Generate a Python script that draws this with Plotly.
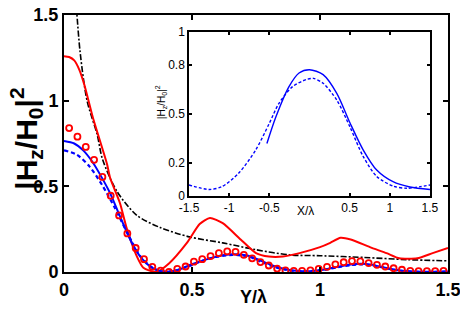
import plotly.graph_objects as go

# ---- main panel data (Y/lambda) ----
red_x = [0, 0.02, 0.04, 0.06, 0.08, 0.113, 0.168, 0.18, 0.219, 0.246, 0.285, 0.31, 0.36,
         0.41, 0.48, 0.53, 0.57, 0.62, 0.69, 0.75, 0.80, 0.855, 0.92, 1.0, 1.04, 1.08,
         1.12, 1.195, 1.26, 1.31, 1.38, 1.44, 1.5]
red_y = [1.26, 1.255, 1.235, 1.18, 1.09, 0.90, 0.63, 0.55, 0.40, 0.25, 0.09, 0.025, 0.0,
         0.05, 0.17, 0.28, 0.315, 0.285, 0.19, 0.11, 0.09, 0.09, 0.11, 0.145, 0.17, 0.20,
         0.19, 0.145, 0.11, 0.08, 0.08, 0.11, 0.14]

circ_x = [0.02, 0.0525, 0.085, 0.1175, 0.15, 0.1825, 0.215, 0.2475, 0.28, 0.3125, 0.345,
          0.3775, 0.41, 0.4425, 0.475, 0.5075, 0.54, 0.5725, 0.605, 0.6375, 0.67, 0.7025,
          0.735, 0.7675, 0.80, 0.8325, 0.865, 0.8975, 0.93, 0.9625, 0.995, 1.0275, 1.06,
          1.0925, 1.125, 1.1575, 1.19, 1.2225, 1.255, 1.2875, 1.32, 1.3525, 1.385, 1.4175,
          1.45, 1.4825]
circ_y = [0.84, 0.79, 0.73, 0.655, 0.555, 0.445, 0.33, 0.225, 0.14, 0.075, 0.03, 0.008,
          0.0, 0.018, 0.032, 0.06, 0.075, 0.093, 0.11, 0.12, 0.118, 0.10, 0.08, 0.058,
          0.038, 0.02, 0.01, 0.006, 0.006, 0.01, 0.018, 0.03, 0.045, 0.057, 0.064, 0.062,
          0.052, 0.042, 0.032, 0.022, 0.013, 0.007, 0.005, 0.005, 0.005, 0.006]

blue_x = [0, 0.04, 0.075, 0.11, 0.15, 0.18, 0.22, 0.26, 0.3, 0.34, 0.375, 0.41, 0.45, 0.5,
          0.56, 0.62, 0.67, 0.72, 0.77, 0.82, 0.87, 0.92, 0.97, 1.02, 1.07, 1.12, 1.16,
          1.2, 1.25, 1.3, 1.35, 1.4, 1.45, 1.5]
blue_y = [0.765, 0.75, 0.71, 0.645, 0.545, 0.46, 0.32, 0.185, 0.085, 0.028, 0.006, 0.002,
          0.015, 0.045, 0.075, 0.098, 0.104, 0.095, 0.065, 0.035, 0.015, 0.006, 0.006,
          0.015, 0.03, 0.044, 0.048, 0.043, 0.027, 0.012, 0.004, 0.002, 0.002, 0.003]

bdash_x = [0, 0.05, 0.1, 0.15, 0.2, 0.25, 0.3, 0.35, 0.39, 0.43, 0.48, 0.54, 0.6, 0.66,
           0.72, 0.77, 0.82, 0.87, 0.92, 0.97, 1.02, 1.07, 1.12, 1.16, 1.2, 1.25, 1.3,
           1.35, 1.4, 1.5]
bdash_y = [0.71, 0.685, 0.615, 0.505, 0.37, 0.22, 0.09, 0.02, 0.002, 0.006, 0.03, 0.065,
           0.09, 0.1, 0.09, 0.06, 0.03, 0.012, 0.004, 0.006, 0.014, 0.028, 0.04, 0.044,
           0.04, 0.025, 0.01, 0.003, 0.001, 0.002]

black_x = [0.045, 0.0625, 0.09, 0.13, 0.15, 0.207, 0.285, 0.375, 0.49, 0.62, 0.75, 0.88,
           1.0, 1.17, 1.34, 1.5]
black_y = [1.62, 1.29, 1.0, 0.80, 0.66, 0.47, 0.33, 0.26, 0.205, 0.17, 0.13, 0.10,
           0.095, 0.085, 0.072, 0.065]

# ---- inset data (X/lambda) ----
in_sol_x = [-0.53, -0.42, -0.255, -0.13, 0.0, 0.17, 0.34, 0.505, 0.67, 0.837, 1.04,
            1.25, 1.5]
in_sol_y = [0.32, 0.48, 0.667, 0.75, 0.77, 0.74, 0.626, 0.445, 0.28, 0.158, 0.087,
            0.055, 0.04]
in_dash_x = [-1.5, -1.25, -1.09, -0.88, -0.67, -0.5, -0.38, -0.21, -0.04, 0.05, 0.17,
             0.34, 0.505, 0.67, 0.84, 1.04, 1.21, 1.38, 1.5]
in_dash_y = [0.067, 0.04, 0.057, 0.14, 0.28, 0.443, 0.565, 0.667, 0.71, 0.717, 0.687,
             0.585, 0.42, 0.24, 0.118, 0.061, 0.047, 0.057, 0.067]

main_ticks = [0, 0.5, 1, 1.5]
main_ticklabels = ["0", "0.5", "1", "1.5"]
inset_xticks = [-1.5, -1, -0.5, 0.5, 1, 1.5]
inset_xticklabels = ["-1.5", "-1", "-0.5", "0.5", "1", "1.5"]
inset_yticks = [0, 0.2, 0.5, 0.8, 1]
inset_yticklabels = ["0", "0.2", "0.5", "0.8", "1"]

FONT = "Liberation Sans, Arial, Helvetica, sans-serif"
RED = "#ff0000"
BLUE = "#0000ff"

fig = go.Figure()
fig.add_trace(go.Scatter(x=black_x, y=black_y, mode="lines",
                         line=dict(color="black", width=1.6, dash="6px,2px,2px,2px",
                                   shape="spline", smoothing=0.8)))
fig.add_trace(go.Scatter(x=red_x, y=red_y, mode="lines",
                         line=dict(color=RED, width=2, shape="spline", smoothing=0.6)))
fig.add_trace(go.Scatter(x=bdash_x, y=bdash_y, mode="lines",
                         line=dict(color=BLUE, width=2.2, dash="4px,3px", shape="spline", smoothing=0.8)))
fig.add_trace(go.Scatter(x=blue_x, y=blue_y, mode="lines",
                         line=dict(color=BLUE, width=2, shape="spline", smoothing=0.8)))
fig.add_trace(go.Scatter(x=circ_x, y=circ_y, mode="markers",
                         marker=dict(symbol="circle-open", size=6, color=RED, line=dict(width=1.8, color=RED))))

fig.add_trace(go.Scatter(x=in_dash_x, y=in_dash_y, mode="lines", xaxis="x2", yaxis="y2",
                         line=dict(color=BLUE, width=1.4, dash="3px,2px", shape="spline", smoothing=0.8)))
fig.add_trace(go.Scatter(x=in_sol_x, y=in_sol_y, mode="lines", xaxis="x2", yaxis="y2",
                         line=dict(color=BLUE, width=1.4, shape="spline", smoothing=0.8)))

annotations = [
    dict(text="<b>|H<sub>z</sub>/H<sub>0</sub>|<sup>2</sup></b>", xref="paper", yref="paper",
         x=-0.098, y=0.52, textangle=-90, showarrow=False, font=dict(size=30, family=FONT),
         xanchor="center", yanchor="middle"),
    dict(text="<b>Y/λ</b>", xref="paper", yref="paper", x=0.493, y=-0.098,
         showarrow=False, font=dict(size=18, family=FONT), xanchor="center", yanchor="middle"),
    dict(text="|H<sub>z</sub>/H<sub>0</sub>|<sup>2</sup>", xref="paper", yref="paper",
         x=0.252, y=0.66, textangle=-90, showarrow=False, font=dict(size=10, family=FONT),
         xanchor="center", yanchor="middle"),
    dict(text="X/λ", xref="x2", yref="paper", x=-0.05, y=0.238,
         showarrow=False, font=dict(size=12, family=FONT), xanchor="center", yanchor="middle"),
]

# The page body adds an 8px margin, so the figure is sized 8px smaller than the window
fig.update_layout(
    template="none",
    width=460, height=303,
    margin=dict(l=56, r=20, t=7, b=39, pad=0, autoexpand=False),
    paper_bgcolor="white", plot_bgcolor="white",
    showlegend=False,
    font=dict(family=FONT, color="black"),
    xaxis=dict(range=[0, 1.5], tickvals=main_ticks,
               ticktext=["<b>%s</b>" % t for t in main_ticklabels],
               ticks="inside", ticklen=5, tickwidth=2, tickcolor="black",
               showline=True, linecolor="black", linewidth=2, mirror="ticks",
               showgrid=False, zeroline=False, automargin=False, ticklabeloverflow="allow",
               tickfont=dict(size=18, family=FONT)),
    yaxis=dict(range=[0, 1.5], tickvals=main_ticks,
               ticktext=["<b>%s</b>" % t for t in main_ticklabels],
               ticks="inside", ticklen=5, tickwidth=2, tickcolor="black",
               showline=True, linecolor="black", linewidth=2, mirror="ticks",
               showgrid=False, zeroline=False, automargin=False, ticklabeloverflow="allow",
               tickfont=dict(size=18, family=FONT)),
    xaxis2=dict(domain=[0.3255, 0.953], anchor="y2", range=[-1.5, 1.5],
                tickvals=inset_xticks, ticktext=inset_xticklabels,
                ticks="inside", ticklen=3, tickwidth=1.5, tickcolor="black",
                showline=True, linecolor="black", linewidth=1.5, mirror="ticks",
                showgrid=False, zeroline=False, automargin=False, ticklabeloverflow="allow",
                tickfont=dict(size=12, family=FONT)),
    yaxis2=dict(domain=[0.2957, 0.934], anchor="x2", range=[0, 1],
                tickvals=inset_yticks, ticktext=inset_yticklabels,
                ticks="inside", ticklen=3, tickwidth=1.5, tickcolor="black",
                showline=True, linecolor="black", linewidth=1.5, mirror="ticks",
                showgrid=False, zeroline=False, automargin=False, ticklabeloverflow="allow",
                tickfont=dict(size=12, family=FONT)),
    annotations=annotations,
)

fig.write_html("out.html")
